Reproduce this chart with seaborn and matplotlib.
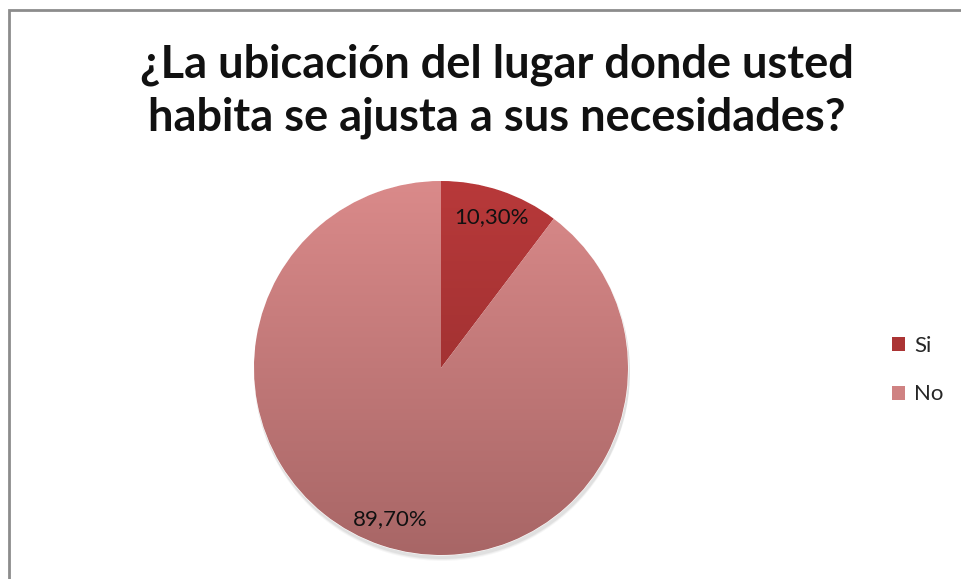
import numpy as np
import seaborn as sns
import matplotlib.pyplot as plt
from matplotlib.patches import Patch, Rectangle
from matplotlib.colors import LinearSegmentedColormap

# datos
categorias = ['Si', 'No']
porcentajes = [10.3, 89.7]
titulo = '¿La ubicación del lugar donde usted\nhabita se ajusta a sus necesidades?'

# colores (arriba -> abajo, degradado)
col_top = ['#b8393a', '#da8a8a']
col_bot = ['#8e2b2b', '#a86666']

sns.set_theme(style='white')
plt.rcParams['font.family'] = ['Lato', 'DejaVu Sans']

W, H = 961, 579
fig = plt.figure(figsize=(W / 100, H / 100), dpi=100)
ax = fig.add_axes([0, 0, 1, 1])

cx, cy, r = 441, H - 368, 187

# sombra suave
for k, a in enumerate([0.05, 0.04, 0.03]):
    sh = plt.Circle((cx + 1, cy - 3 - k), r + 1, color='black', alpha=a, lw=0)
    ax.add_patch(sh)

wedges, texts, autotexts = ax.pie(
    porcentajes, center=(cx, cy), radius=r, startangle=90, counterclock=False,
    autopct=lambda p: f'{p:.2f}%'.replace('.', ','), pctdistance=0.85,
    colors=col_top, frame=True,
    wedgeprops=dict(linewidth=0.8, edgecolor='white'),
    textprops=dict(fontsize=16, color='#111111'))

# degradado vertical dentro de cada porción
grad = np.linspace(0, 1, 256).reshape(-1, 1)
for w, c0, c1 in zip(wedges, col_top, col_bot):
    cmap = LinearSegmentedColormap.from_list('g', [c0, c1])
    im = ax.imshow(grad, cmap=cmap, aspect='auto', origin='upper',
                   extent=(cx - r, cx + r, cy - r, cy + r), zorder=w.get_zorder())
    im.set_clip_path(w)
for t in autotexts:
    t.set_zorder(5)

ax.set_xlim(0, W)
ax.set_ylim(0, H)
ax.set_aspect('auto')
ax.axis('off')

# borde del gráfico
ax.add_patch(Rectangle((8.5, -5), W + 10, H - 9.5 + 5, fill=False,
                       edgecolor='#8c8c8c', lw=2, zorder=6))

ax.text(497, H - 91, titulo, ha='center', va='center', fontsize=32.5,
        fontweight='bold', color='#111111', linespacing=1.32)

handles = [Patch(facecolor=c, edgecolor='none') for c in ['#ab3434', '#cf8282']]
leg = fig.legend(handles, categorias, loc='center left',
                 bbox_to_anchor=(872 / W, 1 - 370 / H), frameon=False,
                 fontsize=16, handlelength=0.6, handleheight=0.6,
                 handletextpad=0.4, labelspacing=1.3)

fig.savefig('out.png', dpi=100)
